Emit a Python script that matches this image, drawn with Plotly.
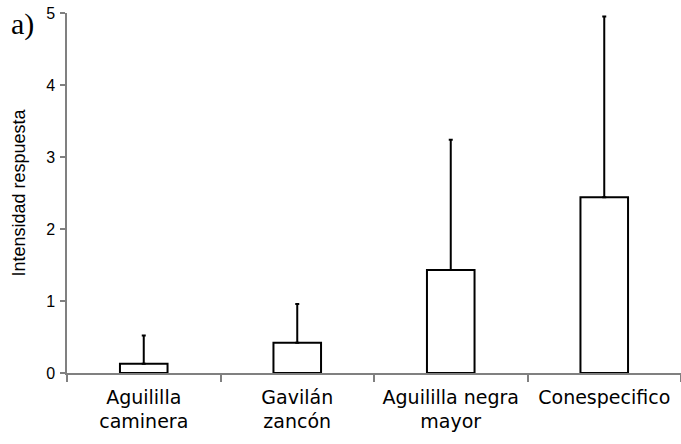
import plotly.graph_objects as go

categories = ["Aguililla<br>caminera", "Gavilán<br>zancón", "Aguililla negra<br>mayor", "Conespecifico"]
means = [0.13, 0.42, 1.43, 2.44]
errors_up = [0.39, 0.54, 1.81, 2.51]
y_ticks = [0, 1, 2, 3, 4, 5]

fig = go.Figure()
fig.add_trace(go.Bar(
    x=categories, y=means, width=0.31,
    marker=dict(color="white", line=dict(color="black", width=2)),
    error_y=dict(type="data", array=errors_up, arrayminus=[0]*len(means),
                 symmetric=False, color="black", thickness=2, width=2),
))

axis_font = dict(family="Liberation Sans, Arial, sans-serif", color="black")
fig.update_layout(
    width=681, height=444,
    margin=dict(l=67, r=0, t=13, b=71),
    paper_bgcolor="white", plot_bgcolor="white",
    showlegend=False,
    font=dict(family="Liberation Sans, Arial, sans-serif", color="black"),
    xaxis=dict(
        range=[-0.5, 3.5], tickson="boundaries", ticks="outside", ticklen=7,
        tickcolor="#808080", tickwidth=1.5,
        showline=True, linecolor="#808080", linewidth=1.5,
        showgrid=False, zeroline=False,
        tickfont=dict(size=19, family="DejaVu Sans, Verdana, sans-serif", color="black"),
        tickangle=0, ticklabelstandoff=6,
    ),
    yaxis=dict(
        range=[0, 5], tickvals=y_ticks, ticks="outside", ticklen=5,
        tickcolor="#808080", tickwidth=1.5,
        showline=True, linecolor="#808080", linewidth=1.5,
        showgrid=False, zeroline=False,
        tickfont=dict(size=16, **axis_font), ticklabelstandoff=2,
        title=dict(text="Intensidad respuesta", font=dict(size=18, **axis_font), standoff=16),
    ),
    annotations=[dict(
        text="a)", xref="paper", yref="paper", x=-58/614, y=1.0 + 8/360,
        xanchor="left", yanchor="top", showarrow=False,
        font=dict(family="Liberation Serif, Times New Roman, serif", size=30, color="black"),
    )],
)

fig.write_html("out.html")
